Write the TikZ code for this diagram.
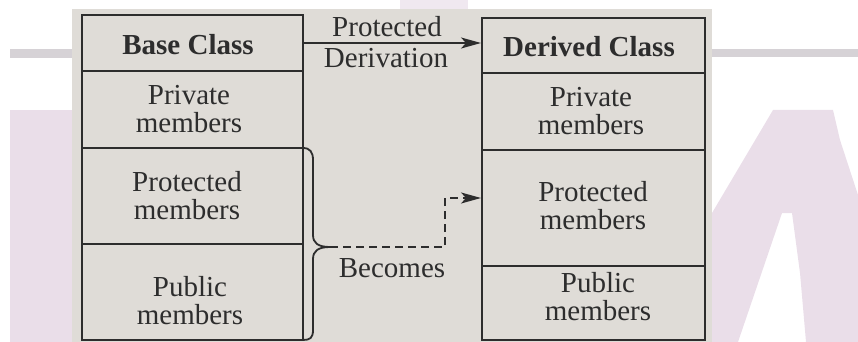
\documentclass[tikz,border=0pt]{standalone}
\usepackage{fontspec}
\setmainfont{Liberation Serif}
\usetikzlibrary{arrows.meta}

\definecolor{paper}{RGB}{223,220,215}
\definecolor{ink}{RGB}{45,45,45}
\definecolor{wmpink}{RGB}{234,222,233}
\definecolor{wmgray}{RGB}{214,210,214}

\tikzset{
  cell/.style={draw=ink, line width=2pt, rectangle, inner sep=0pt},
  txt/.style={text=ink, align=center, inner sep=0pt,
    font=\fontsize{29}{28}\selectfont},
  head/.style={txt, font=\fontsize{29}{28}\selectfont\bfseries},
  link/.style={draw=ink, line width=1.8pt,
    -{Stealth[length=20pt, width=11pt, inset=5pt]}},
  becomes/.style={link, dash pattern=on 8pt off 5pt},
  brace/.style={draw=ink, line width=1.8pt}
}

\begin{document}
\begin{tikzpicture}[x=1pt, y=-1pt]
\useasboundingbox (0,0) rectangle (858,342);

% watermark behind the scan
\fill[wmgray] (10,49) rectangle (72,58);
\fill[wmgray] (712,49) rectangle (858,57);
\fill[wmpink] (10,110) rectangle (72,342);
\fill[wmpink!70!white] (400,0) rectangle (468,9);
\fill[wmpink] (773,110) -- (833,110) -- (840,140) -- (858,195) -- (858,342)
  -- (806,342) -- (800,273) -- (792,213) -- (782,213) -- (738,342)
  -- (712,342) -- (712,213) -- cycle;

% scanned page
\fill[paper] (72,9) rectangle (712,342);

% base class
\node[cell, minimum width=221pt, minimum height=56pt] (bh)    at (192.5,43)  {};
\node[cell, minimum width=221pt, minimum height=77pt] (bpriv) at (192.5,109.5) {};
\node[cell, minimum width=221pt, minimum height=96pt] (bprot) at (192.5,196) {};
\node[cell, minimum width=221pt, minimum height=96pt] (bpub)  at (192.5,292) {};

\node[head] (bhT)    at (188,45)  {Base Class};
\node[txt]  (bprivT) at (189,109) {Private\\members};
\node[txt]  (bprotT) at (187,196) {Protected\\members};
\node[txt]  (bpubT)  at (190,301) {Public\\members};

% derived class
\node[cell, minimum width=223pt, minimum height=55pt]  (dh)    at (593.5,45.5) {};
\node[cell, minimum width=223pt, minimum height=77pt]  (dpriv) at (593.5,111.5) {};
\node[cell, minimum width=223pt, minimum height=116pt] (dprot) at (593.5,208) {};
\node[cell, minimum width=223pt, minimum height=74pt]  (dpub)  at (593.5,303) {};

\node[head] (dhT)    at (589,47)  {Derived Class};
\node[txt]  (dprivT) at (591,111) {Private\\members};
\node[txt]  (dprotT) at (593,206) {Protected\\members};
\node[txt]  (dpubT)  at (598,297) {Public\\members};

% protected derivation
\draw[link] (bh.east) -- (bh.east -| dh.west);
\node[txt] (derivA) at (387,27) {Protected};
\node[txt] (derivB) at (386,58) {Derivation};

% brace over protected and public members
\coordinate (tip) at (330,247);
\draw[brace] (303,148) .. controls (310,148) and (313,152) .. (313,160)
  -- (313,235) .. controls (313,243) and (318,247) .. (tip)
  .. controls (318,247) and (313,251) .. (313,259)
  -- (313,330) .. controls (313,338) and (310,340) .. (303,340);

\coordinate (bend) at (445,198);
\draw[becomes] (tip) -| (bend) -- (bend -| dprot.west);
\node[txt] (becomesT) at (392,268) {Becomes};

\end{tikzpicture}
\end{document}
